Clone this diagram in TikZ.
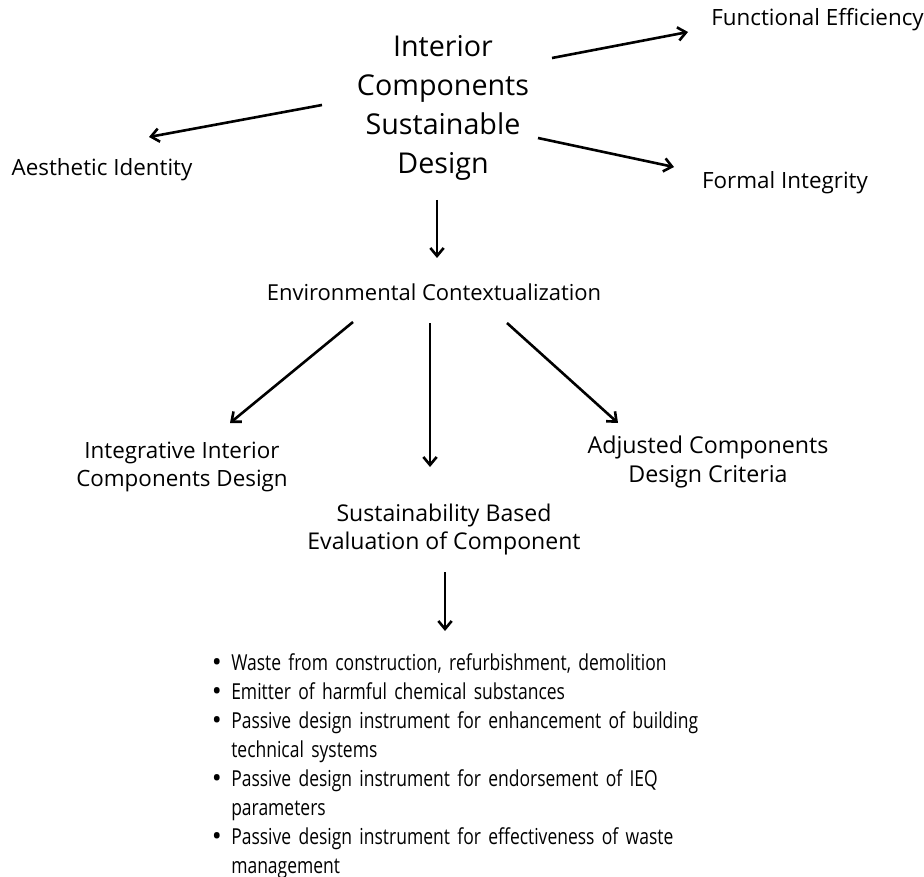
\documentclass[tikz,border=0pt]{standalone}
\usepackage{fontspec}
\setmainfont{Open Sans}
\newfontfamily\listfont{Open Sans}[FakeStretch=0.795,WordSpace=0.8]
\usetikzlibrary{arrows.meta}
\newcommand\dotmark{\raisebox{-0.14ex}{\normalfont\fontsize{20}{20}\selectfont\textbullet}}
\newenvironment{dotlist}{\begin{list}{\dotmark}{%
    \setlength{\topsep}{0pt}\setlength{\partopsep}{0pt}%
    \setlength{\itemsep}{0pt}\setlength{\parsep}{0pt}%
    \setlength{\leftmargin}{15.75pt}\setlength{\labelsep}{7pt}}\raggedright}{\end{list}}
\begin{document}
\begin{tikzpicture}[x=0.75pt,y=-0.75pt,
  lbl/.style={inner sep=0pt,font=\fontsize{16.8}{21.5}\selectfont,align=center},
  ttl/.style={inner sep=0pt,font=\fontsize{21.5}{29.2}\selectfont,align=center},
  arr/.style={line width=1.95pt,-{Straight Barb[length=6pt,width=10pt,line width=1.95pt]}}]
\useasboundingbox (0,0) rectangle (924,877);

% central topic
\node[ttl] (title) at (443,108) {Interior\\Components\\Sustainable\\Design};

% aspects around the topic
\node[lbl,anchor=east] (func) at (924,20) {Functional Efficiency};
\node[lbl] (aest) at (102,170) {Aesthetic Identity};
\node[lbl] (form) at (785,183) {Formal Integrity};

% context and its branches
\node[lbl,font=\fontsize{16.5}{21.5}\selectfont] (env) at (434,292) {Environmental Contextualization};
\node[lbl] (integ) at (182,467) {Integrative Interior\\Components Design};
\node[lbl,font=\fontsize{17.4}{21.5}\selectfont] (adj) at (708,462) {Adjusted Components\\Design Criteria};
\node[lbl,font=\fontsize{17.3}{21}\selectfont] (sust) at (444,530) {Sustainability Based\\Evaluation of Component};

% evaluation criteria
\node[inner sep=0pt,anchor=north west,text width=420pt,
      font=\listfont\fontsize{16.5}{21.75}\selectfont] (list) at (210,641) {%
  \begin{dotlist}
  \item Waste from construction, refurbishment, demolition
  \item Emitter of harmful chemical substances
  \item Passive design instrument for enhancement of building\\technical systems
  \item Passive design instrument for endorsement of IEQ\\parameters
  \item Passive design instrument for effectiveness of waste\\management
  \end{dotlist}};

% arrow end points
\coordinate (t-f) at (552,58);   \coordinate (f-in) at (688,32);
\coordinate (t-a) at (322,105);  \coordinate (a-in) at (149,137);
\coordinate (t-r) at (538,138);  \coordinate (r-in) at (674,167);
\coordinate (t-e) at (437,200);  \coordinate (e-in) at (437,258);
\coordinate (e-i) at (353,322);  \coordinate (i-in) at (230,423);
\coordinate (e-s) at (430,323);  \coordinate (s-in) at (430,467);
\coordinate (e-d) at (507,323);  \coordinate (d-in) at (618,423);
\coordinate (s-l) at (445,572);  \coordinate (l-in) at (445,631);

\draw[arr] (t-f) -- (f-in);
\draw[arr] (t-a) -- (a-in);
\draw[arr] (t-r) -- (r-in);
\draw[arr] (t-e) -- (e-in);
\draw[arr] (e-i) -- (i-in);
\draw[arr] (e-s) -- (s-in);
\draw[arr] (e-d) -- (d-in);
\draw[arr] (s-l) -- (l-in);
\end{tikzpicture}
\end{document}
